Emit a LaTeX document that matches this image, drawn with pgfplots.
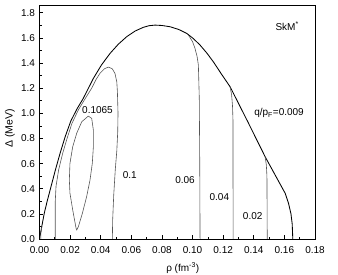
\documentclass[border=0pt]{standalone}
\usepackage{fontspec}
\setmainfont{Liberation Sans}
\usepackage{pgfplots}
\pgfplotsset{compat=1.18}
\definecolor{inner}{HTML}{555555}
\begin{document}
\begin{tikzpicture}
\begin{axis}[
  scale only axis, width=275.5pt, height=234pt,
  xmin=0, xmax=0.18, ymin=0, ymax=1.862,
  axis line style={line width=0.9pt},
  xtick={0,0.02,...,0.181}, ytick={0,0.2,...,1.81},
  minor x tick num=1, minor y tick num=1,
  tick align=inside, xtick pos=bottom, ytick pos=left,
  major tick length=4pt, minor tick length=2.2pt,
  tick style={line width=0.7pt, black},
  scaled ticks=false,
  /pgf/number format/assume math mode=true,
  xticklabel style={yshift=-3.5pt,/pgf/number format/.cd,fixed,fixed zerofill,precision=2},
  yticklabel style={xshift=-1pt,/pgf/number format/.cd,fixed,fixed zerofill,precision=1},
  tick label style={font=\fontsize{10}{12}\selectfont},
  clip=false,
]
\coordinate (sw) at (rel axis cs:0,0);
\coordinate (ne) at (rel axis cs:1,1);
% outer envelope
\addplot[black, line width=0.85pt] coordinates {
(0,0)(0.0015,0.1)(0.0031,0.204)(0.0050,0.30)(0.0075,0.416)(0.0104,0.55)(0.0134,0.68)(0.0168,0.815)(0.0205,0.94)(0.0245,1.035)(0.0286,1.119)(0.0352,1.278)(0.0405,1.385)(0.0461,1.477)(0.0515,1.55)(0.0570,1.610)(0.0625,1.655)(0.0678,1.684)(0.0715,1.697)(0.0755,1.702)(0.080,1.699)(0.0853,1.689)(0.091,1.667)(0.0962,1.636)(0.1005,1.595)(0.1049,1.543)(0.1093,1.48)(0.1136,1.410)(0.119,1.31)(0.1245,1.212)(0.1360,0.935)(0.1474,0.655)(0.1605,0.364)(0.1627,0.284)(0.1643,0.20)(0.1651,0.12)(0.1655,0)
};
% 0.06
\addplot[inner, line width=0.6pt] coordinates {
(0.0973,1.623)(0.1000,1.570)(0.1016,1.517)(0.1030,1.45)(0.1038,1.384)(0.1044,1.119)(0.1047,0.6)(0.1049,0)
};
\addplot[inner, line width=0.6pt] coordinates {
(0.0009,0)(0.0009,0.05)(0.0015,0.1)
};
% 0.04
\addplot[inner, line width=0.6pt] coordinates {
(0.1245,1.212)(0.1255,1.15)(0.1261,1.06)(0.1264,0.95)(0.1265,0)
};
% 0.02
\addplot[inner, line width=0.6pt] coordinates {
(0.1474,0.655)(0.1482,0.59)(0.1486,0.5)(0.1488,0)
};
% 0.1
\addplot[inner, line width=0.6pt] coordinates {
(0.0103,0)(0.0103,0.30)(0.0108,0.42)(0.0125,0.55)(0.0151,0.68)(0.0180,0.80)(0.0212,0.92)(0.0255,1.03)(0.0300,1.12)(0.0341,1.20)(0.0370,1.27)(0.0395,1.318)(0.0425,1.355)(0.0450,1.368)(0.0475,1.355)(0.0493,1.318)(0.0505,1.25)(0.0509,1.172)(0.0513,1.0)(0.0511,0.85)(0.0505,0.7)(0.0495,0.55)(0.0485,0.35)(0.0478,0.15)(0.0476,0)
};
% 0.1065 loop
\addplot[inner, line width=0.6pt] coordinates {
(0.0319,0.978)(0.0276,0.933)(0.0243,0.841)(0.0217,0.734)(0.0199,0.602)(0.0195,0.469)(0.0199,0.364)(0.0217,0.231)(0.0239,0.085)(0.0243,0.072)(0.0254,0.098)(0.0280,0.204)(0.0308,0.337)(0.0330,0.469)(0.0345,0.602)(0.0352,0.734)(0.0352,0.867)(0.0341,0.960)(0.0319,0.978)
};
\node[font=\fontsize{10}{12}\selectfont] at (axis cs:0.1618,1.695) {SkM\textsuperscript{*}};
\node[font=\fontsize{10}{12}\selectfont] at (axis cs:0.1565,1.0) {q/p\textsubscript{F}=0.009};
\node[font=\fontsize{10}{12}\selectfont] at (axis cs:0.0379,1.026) {0.1065};
\node[font=\fontsize{10}{12}\selectfont] at (axis cs:0.0590,0.509) {0.1};
\node[font=\fontsize{10}{12}\selectfont] at (axis cs:0.0951,0.469) {0.06};
\node[font=\fontsize{10}{12}\selectfont] at (axis cs:0.1175,0.337) {0.04};
\node[font=\fontsize{10}{12}\selectfont] at (axis cs:0.1393,0.183) {0.02};
\node[font=\fontsize{10}{12}\selectfont] at (axis description cs:0.52,-0.124) {ρ (fm\textsuperscript{-3})};
\node[font=\fontsize{10.5}{12}\selectfont, rotate=90] at (axis description cs:-0.107,0.472) {Δ (MeV)};
\end{axis}
\pgfresetboundingbox
\path[use as bounding box] ([shift={(-39.5pt,-36pt)}]sw) rectangle ([shift={(23pt,5pt)}]ne);
\end{tikzpicture}
\end{document}
